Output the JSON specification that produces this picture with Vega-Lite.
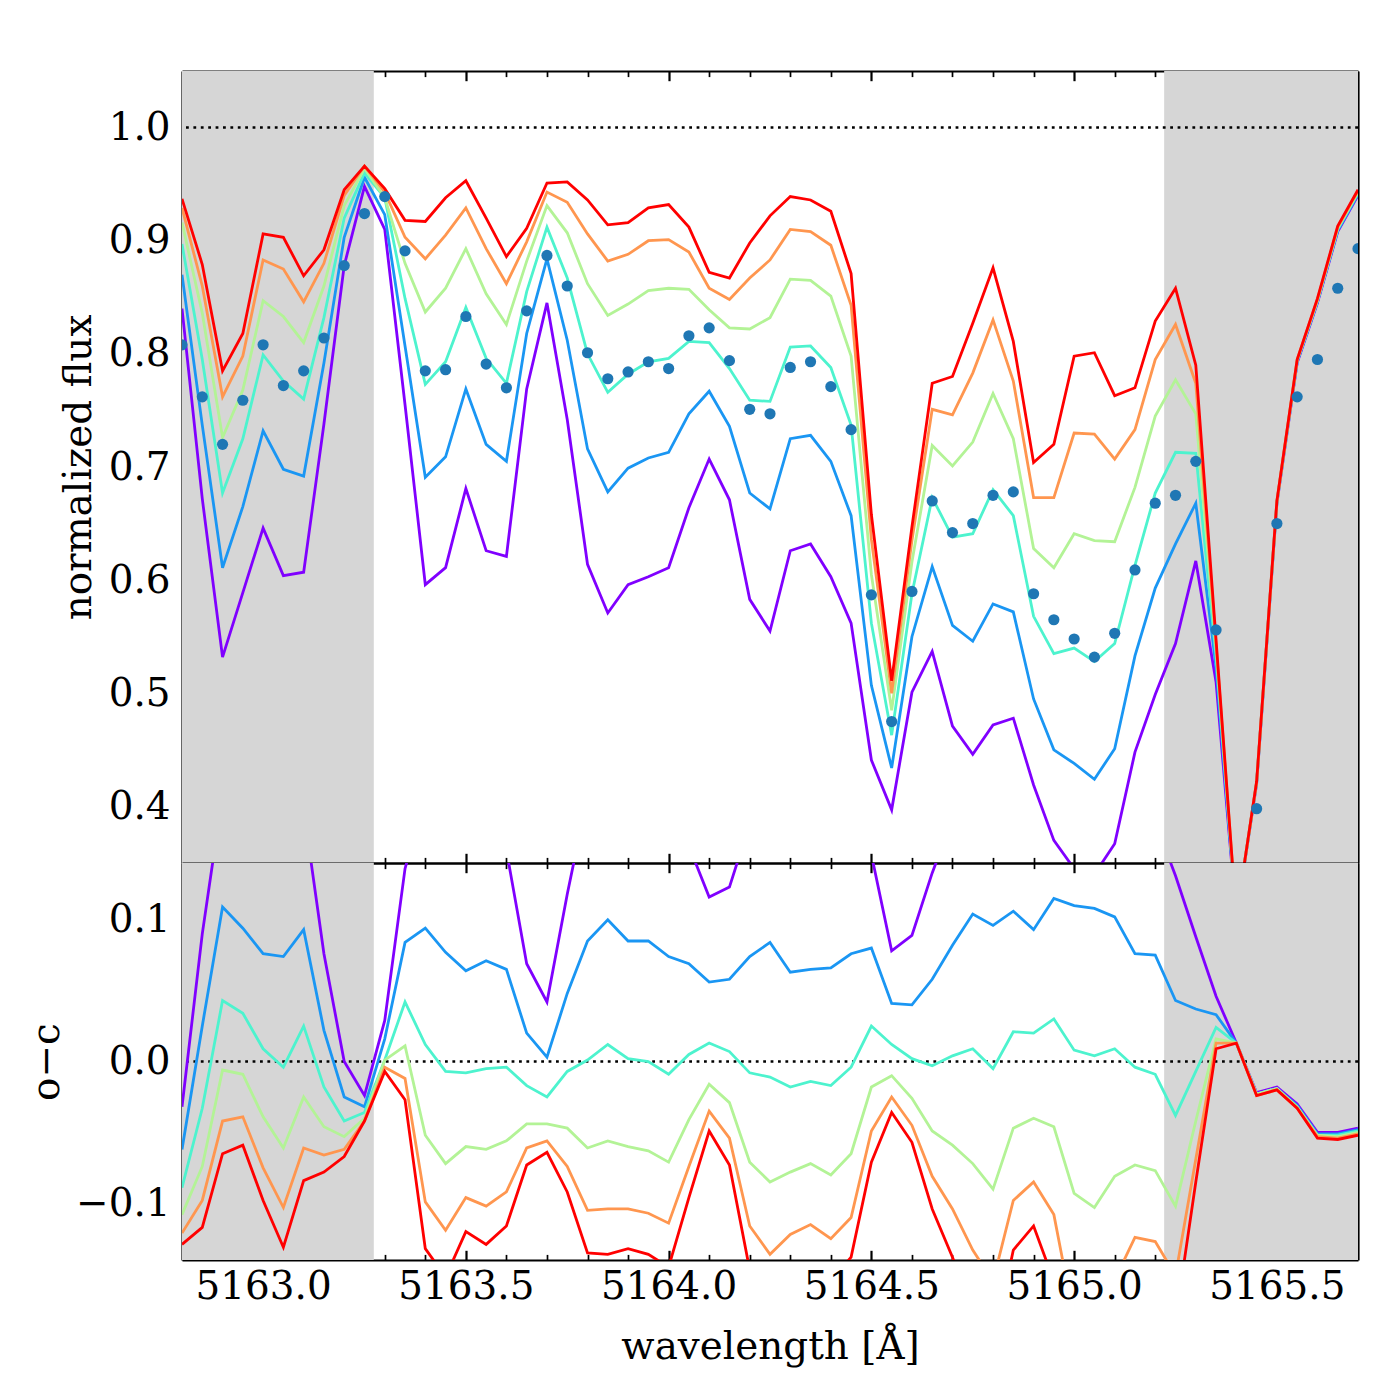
{
"$schema": "https://vega.github.io/schema/vega-lite/v6.json",
"autosize": {"type": "pad"},
"padding": {"left": 27, "top": 69, "right": 10, "bottom": 10},
"background": "white",
"spacing": 0,
"bounds": "flush",
"config": {
  "view": {"stroke": null},
  "font": "DejaVu Serif",
  "axis": {"domainColor": "black", "domainWidth": 2.2, "tickColor": "black", "labelColor": "black", "titleColor": "black", "labelFont": "DejaVu Serif", "titleFont": "DejaVu Serif", "labelFontSize": 38.9, "titleFontSize": 38.9, "titleFontWeight": "normal", "grid": false, "zindex": 1, "labelOverlap": false, "labelFlush": false, "tickCap": "butt"}
},
"datasets": {
  "shade": [{"a": 5162.8, "b": 5163.273}, {"a": 5165.222, "b": 5165.7}],
  "ref1": [{"v": 1.0}],
  "ref0": [{"v": 0.0}],
  "obs": [{"w":5162.8,"f":0.808},{"w":5162.85,"f":0.762},{"w":5162.9,"f":0.72},{"w":5162.95,"f":0.759},{"w":5163,"f":0.808},{"w":5163.05,"f":0.772},{"w":5163.1,"f":0.785},{"w":5163.15,"f":0.814},{"w":5163.2,"f":0.878},{"w":5163.25,"f":0.924},{"w":5163.3,"f":0.939},{"w":5163.35,"f":0.891},{"w":5163.4,"f":0.785},{"w":5163.45,"f":0.786},{"w":5163.5,"f":0.833},{"w":5163.55,"f":0.791},{"w":5163.6,"f":0.77},{"w":5163.65,"f":0.838},{"w":5163.7,"f":0.887},{"w":5163.75,"f":0.86},{"w":5163.8,"f":0.801},{"w":5163.85,"f":0.778},{"w":5163.9,"f":0.784},{"w":5163.95,"f":0.793},{"w":5164,"f":0.787},{"w":5164.05,"f":0.816},{"w":5164.1,"f":0.823},{"w":5164.15,"f":0.794},{"w":5164.2,"f":0.751},{"w":5164.25,"f":0.747},{"w":5164.3,"f":0.788},{"w":5164.35,"f":0.793},{"w":5164.4,"f":0.771},{"w":5164.45,"f":0.733},{"w":5164.5,"f":0.587},{"w":5164.55,"f":0.475},{"w":5164.6,"f":0.59},{"w":5164.65,"f":0.67},{"w":5164.7,"f":0.642},{"w":5164.75,"f":0.65},{"w":5164.8,"f":0.675},{"w":5164.85,"f":0.678},{"w":5164.9,"f":0.588},{"w":5164.95,"f":0.565},{"w":5165,"f":0.548},{"w":5165.05,"f":0.532},{"w":5165.1,"f":0.553},{"w":5165.15,"f":0.609},{"w":5165.2,"f":0.668},{"w":5165.25,"f":0.675},{"w":5165.3,"f":0.705},{"w":5165.35,"f":0.556},{"w":5165.4,"f":0.315},{"w":5165.45,"f":0.398},{"w":5165.5,"f":0.65},{"w":5165.55,"f":0.762},{"w":5165.6,"f":0.795},{"w":5165.65,"f":0.858},{"w":5165.7,"f":0.893}],
  "model": [
{"w":5162.8,"m":"m1","f":0.840,"d":-0.032},{"w":5162.85,"m":"m1","f":0.672,"d":0.090},{"w":5162.9,"m":"m1","f":0.532,"d":0.188},{"w":5162.95,"m":"m1","f":0.589,"d":0.170},{"w":5163,"m":"m1","f":0.646,"d":0.162},{"w":5163.05,"m":"m1","f":0.604,"d":0.168},{"w":5163.1,"m":"m1","f":0.607,"d":0.178},{"w":5163.15,"m":"m1","f":0.738,"d":0.076},{"w":5163.2,"m":"m1","f":0.878,"d":0.000},{"w":5163.25,"m":"m1","f":0.948,"d":-0.024},{"w":5163.3,"m":"m1","f":0.910,"d":0.029},{"w":5163.35,"m":"m1","f":0.755,"d":0.136},{"w":5163.4,"m":"m1","f":0.596,"d":0.189},{"w":5163.45,"m":"m1","f":0.611,"d":0.175},{"w":5163.5,"m":"m1","f":0.681,"d":0.152},{"w":5163.55,"m":"m1","f":0.626,"d":0.165},{"w":5163.6,"m":"m1","f":0.621,"d":0.149},{"w":5163.65,"m":"m1","f":0.769,"d":0.069},{"w":5163.7,"m":"m1","f":0.845,"d":0.042},{"w":5163.75,"m":"m1","f":0.742,"d":0.118},{"w":5163.8,"m":"m1","f":0.614,"d":0.187},{"w":5163.85,"m":"m1","f":0.571,"d":0.207},{"w":5163.9,"m":"m1","f":0.596,"d":0.188},{"w":5163.95,"m":"m1","f":0.603,"d":0.190},{"w":5164,"m":"m1","f":0.611,"d":0.176},{"w":5164.05,"m":"m1","f":0.664,"d":0.152},{"w":5164.1,"m":"m1","f":0.707,"d":0.116},{"w":5164.15,"m":"m1","f":0.671,"d":0.123},{"w":5164.2,"m":"m1","f":0.583,"d":0.168},{"w":5164.25,"m":"m1","f":0.555,"d":0.192},{"w":5164.3,"m":"m1","f":0.626,"d":0.162},{"w":5164.35,"m":"m1","f":0.632,"d":0.161},{"w":5164.4,"m":"m1","f":0.603,"d":0.168},{"w":5164.45,"m":"m1","f":0.562,"d":0.171},{"w":5164.5,"m":"m1","f":0.441,"d":0.146},{"w":5164.55,"m":"m1","f":0.397,"d":0.078},{"w":5164.6,"m":"m1","f":0.501,"d":0.089},{"w":5164.65,"m":"m1","f":0.537,"d":0.133},{"w":5164.7,"m":"m1","f":0.471,"d":0.171},{"w":5164.75,"m":"m1","f":0.446,"d":0.204},{"w":5164.8,"m":"m1","f":0.472,"d":0.203},{"w":5164.85,"m":"m1","f":0.478,"d":0.200},{"w":5164.9,"m":"m1","f":0.419,"d":0.169},{"w":5164.95,"m":"m1","f":0.370,"d":0.195},{"w":5165,"m":"m1","f":0.345,"d":0.203},{"w":5165.05,"m":"m1","f":0.340,"d":0.192},{"w":5165.1,"m":"m1","f":0.367,"d":0.186},{"w":5165.15,"m":"m1","f":0.448,"d":0.161},{"w":5165.2,"m":"m1","f":0.499,"d":0.169},{"w":5165.25,"m":"m1","f":0.544,"d":0.131},{"w":5165.3,"m":"m1","f":0.617,"d":0.088},{"w":5165.35,"m":"m1","f":0.510,"d":0.046},{"w":5165.4,"m":"m1","f":0.302,"d":0.013},{"w":5165.45,"m":"m1","f":0.420,"d":-0.022},{"w":5165.5,"m":"m1","f":0.668,"d":-0.018},{"w":5165.55,"m":"m1","f":0.792,"d":-0.030},{"w":5165.6,"m":"m1","f":0.845,"d":-0.050},{"w":5165.65,"m":"m1","f":0.908,"d":-0.050},{"w":5165.7,"m":"m1","f":0.940,"d":-0.047},
{"w":5162.8,"m":"m2","f":0.870,"d":-0.062},{"w":5162.85,"m":"m2","f":0.737,"d":0.025},{"w":5162.9,"m":"m2","f":0.611,"d":0.109},{"w":5162.95,"m":"m2","f":0.665,"d":0.094},{"w":5163,"m":"m2","f":0.732,"d":0.076},{"w":5163.05,"m":"m2","f":0.698,"d":0.074},{"w":5163.1,"m":"m2","f":0.692,"d":0.093},{"w":5163.15,"m":"m2","f":0.792,"d":0.022},{"w":5163.2,"m":"m2","f":0.903,"d":-0.025},{"w":5163.25,"m":"m2","f":0.956,"d":-0.032},{"w":5163.3,"m":"m2","f":0.923,"d":0.016},{"w":5163.35,"m":"m2","f":0.807,"d":0.084},{"w":5163.4,"m":"m2","f":0.691,"d":0.094},{"w":5163.45,"m":"m2","f":0.709,"d":0.077},{"w":5163.5,"m":"m2","f":0.769,"d":0.064},{"w":5163.55,"m":"m2","f":0.720,"d":0.071},{"w":5163.6,"m":"m2","f":0.705,"d":0.065},{"w":5163.65,"m":"m2","f":0.818,"d":0.020},{"w":5163.7,"m":"m2","f":0.884,"d":0.003},{"w":5163.75,"m":"m2","f":0.812,"d":0.048},{"w":5163.8,"m":"m2","f":0.716,"d":0.085},{"w":5163.85,"m":"m2","f":0.678,"d":0.100},{"w":5163.9,"m":"m2","f":0.699,"d":0.085},{"w":5163.95,"m":"m2","f":0.708,"d":0.085},{"w":5164,"m":"m2","f":0.713,"d":0.074},{"w":5164.05,"m":"m2","f":0.747,"d":0.069},{"w":5164.1,"m":"m2","f":0.767,"d":0.056},{"w":5164.15,"m":"m2","f":0.736,"d":0.058},{"w":5164.2,"m":"m2","f":0.677,"d":0.074},{"w":5164.25,"m":"m2","f":0.663,"d":0.084},{"w":5164.3,"m":"m2","f":0.725,"d":0.063},{"w":5164.35,"m":"m2","f":0.728,"d":0.065},{"w":5164.4,"m":"m2","f":0.705,"d":0.066},{"w":5164.45,"m":"m2","f":0.657,"d":0.076},{"w":5164.5,"m":"m2","f":0.507,"d":0.080},{"w":5164.55,"m":"m2","f":0.434,"d":0.041},{"w":5164.6,"m":"m2","f":0.550,"d":0.040},{"w":5164.65,"m":"m2","f":0.612,"d":0.058},{"w":5164.7,"m":"m2","f":0.560,"d":0.082},{"w":5164.75,"m":"m2","f":0.546,"d":0.104},{"w":5164.8,"m":"m2","f":0.579,"d":0.096},{"w":5164.85,"m":"m2","f":0.572,"d":0.106},{"w":5164.9,"m":"m2","f":0.495,"d":0.093},{"w":5164.95,"m":"m2","f":0.450,"d":0.115},{"w":5165,"m":"m2","f":0.438,"d":0.110},{"w":5165.05,"m":"m2","f":0.424,"d":0.108},{"w":5165.1,"m":"m2","f":0.451,"d":0.102},{"w":5165.15,"m":"m2","f":0.533,"d":0.076},{"w":5165.2,"m":"m2","f":0.593,"d":0.075},{"w":5165.25,"m":"m2","f":0.632,"d":0.043},{"w":5165.3,"m":"m2","f":0.668,"d":0.037},{"w":5165.35,"m":"m2","f":0.523,"d":0.033},{"w":5165.4,"m":"m2","f":0.302,"d":0.013},{"w":5165.45,"m":"m2","f":0.421,"d":-0.023},{"w":5165.5,"m":"m2","f":0.669,"d":-0.019},{"w":5165.55,"m":"m2","f":0.793,"d":-0.031},{"w":5165.6,"m":"m2","f":0.846,"d":-0.051},{"w":5165.65,"m":"m2","f":0.909,"d":-0.051},{"w":5165.7,"m":"m2","f":0.941,"d":-0.048},
{"w":5162.8,"m":"m3","f":0.897,"d":-0.089},{"w":5162.85,"m":"m3","f":0.795,"d":-0.033},{"w":5162.9,"m":"m3","f":0.677,"d":0.043},{"w":5162.95,"m":"m3","f":0.725,"d":0.034},{"w":5163,"m":"m3","f":0.799,"d":0.009},{"w":5163.05,"m":"m3","f":0.776,"d":-0.004},{"w":5163.1,"m":"m3","f":0.760,"d":0.025},{"w":5163.15,"m":"m3","f":0.832,"d":-0.018},{"w":5163.2,"m":"m3","f":0.920,"d":-0.042},{"w":5163.25,"m":"m3","f":0.960,"d":-0.036},{"w":5163.3,"m":"m3","f":0.938,"d":0.001},{"w":5163.35,"m":"m3","f":0.849,"d":0.042},{"w":5163.4,"m":"m3","f":0.773,"d":0.012},{"w":5163.45,"m":"m3","f":0.793,"d":-0.007},{"w":5163.5,"m":"m3","f":0.841,"d":-0.008},{"w":5163.55,"m":"m3","f":0.796,"d":-0.005},{"w":5163.6,"m":"m3","f":0.774,"d":-0.004},{"w":5163.65,"m":"m3","f":0.855,"d":-0.017},{"w":5163.7,"m":"m3","f":0.912,"d":-0.025},{"w":5163.75,"m":"m3","f":0.867,"d":-0.007},{"w":5163.8,"m":"m3","f":0.800,"d":0.001},{"w":5163.85,"m":"m3","f":0.766,"d":0.012},{"w":5163.9,"m":"m3","f":0.782,"d":0.002},{"w":5163.95,"m":"m3","f":0.793,"d":0.000},{"w":5164,"m":"m3","f":0.796,"d":-0.009},{"w":5164.05,"m":"m3","f":0.811,"d":0.005},{"w":5164.1,"m":"m3","f":0.810,"d":0.013},{"w":5164.15,"m":"m3","f":0.787,"d":0.007},{"w":5164.2,"m":"m3","f":0.759,"d":-0.008},{"w":5164.25,"m":"m3","f":0.758,"d":-0.011},{"w":5164.3,"m":"m3","f":0.806,"d":-0.018},{"w":5164.35,"m":"m3","f":0.807,"d":-0.014},{"w":5164.4,"m":"m3","f":0.788,"d":-0.017},{"w":5164.45,"m":"m3","f":0.737,"d":-0.004},{"w":5164.5,"m":"m3","f":0.562,"d":0.025},{"w":5164.55,"m":"m3","f":0.463,"d":0.012},{"w":5164.6,"m":"m3","f":0.588,"d":0.002},{"w":5164.65,"m":"m3","f":0.673,"d":-0.003},{"w":5164.7,"m":"m3","f":0.638,"d":0.004},{"w":5164.75,"m":"m3","f":0.641,"d":0.009},{"w":5164.8,"m":"m3","f":0.680,"d":-0.005},{"w":5164.85,"m":"m3","f":0.657,"d":0.021},{"w":5164.9,"m":"m3","f":0.568,"d":0.020},{"w":5164.95,"m":"m3","f":0.535,"d":0.030},{"w":5165,"m":"m3","f":0.540,"d":0.008},{"w":5165.05,"m":"m3","f":0.528,"d":0.004},{"w":5165.1,"m":"m3","f":0.544,"d":0.009},{"w":5165.15,"m":"m3","f":0.613,"d":-0.004},{"w":5165.2,"m":"m3","f":0.677,"d":-0.009},{"w":5165.25,"m":"m3","f":0.713,"d":-0.038},{"w":5165.3,"m":"m3","f":0.712,"d":-0.007},{"w":5165.35,"m":"m3","f":0.532,"d":0.024},{"w":5165.4,"m":"m3","f":0.302,"d":0.013},{"w":5165.45,"m":"m3","f":0.421,"d":-0.023},{"w":5165.5,"m":"m3","f":0.669,"d":-0.019},{"w":5165.55,"m":"m3","f":0.794,"d":-0.032},{"w":5165.6,"m":"m3","f":0.847,"d":-0.052},{"w":5165.65,"m":"m3","f":0.910,"d":-0.052},{"w":5165.7,"m":"m3","f":0.942,"d":-0.049},
{"w":5162.8,"m":"m4","f":0.916,"d":-0.108},{"w":5162.85,"m":"m4","f":0.836,"d":-0.074},{"w":5162.9,"m":"m4","f":0.726,"d":-0.006},{"w":5162.95,"m":"m4","f":0.768,"d":-0.009},{"w":5163,"m":"m4","f":0.847,"d":-0.039},{"w":5163.05,"m":"m4","f":0.833,"d":-0.061},{"w":5163.1,"m":"m4","f":0.810,"d":-0.025},{"w":5163.15,"m":"m4","f":0.860,"d":-0.046},{"w":5163.2,"m":"m4","f":0.931,"d":-0.053},{"w":5163.25,"m":"m4","f":0.964,"d":-0.040},{"w":5163.3,"m":"m4","f":0.938,"d":0.001},{"w":5163.35,"m":"m4","f":0.880,"d":0.011},{"w":5163.4,"m":"m4","f":0.837,"d":-0.052},{"w":5163.45,"m":"m4","f":0.858,"d":-0.072},{"w":5163.5,"m":"m4","f":0.893,"d":-0.060},{"w":5163.55,"m":"m4","f":0.853,"d":-0.062},{"w":5163.6,"m":"m4","f":0.826,"d":-0.056},{"w":5163.65,"m":"m4","f":0.882,"d":-0.044},{"w":5163.7,"m":"m4","f":0.931,"d":-0.044},{"w":5163.75,"m":"m4","f":0.907,"d":-0.047},{"w":5163.8,"m":"m4","f":0.862,"d":-0.061},{"w":5163.85,"m":"m4","f":0.834,"d":-0.056},{"w":5163.9,"m":"m4","f":0.844,"d":-0.060},{"w":5163.95,"m":"m4","f":0.856,"d":-0.063},{"w":5164,"m":"m4","f":0.858,"d":-0.071},{"w":5164.05,"m":"m4","f":0.857,"d":-0.041},{"w":5164.1,"m":"m4","f":0.839,"d":-0.016},{"w":5164.15,"m":"m4","f":0.823,"d":-0.029},{"w":5164.2,"m":"m4","f":0.822,"d":-0.071},{"w":5164.25,"m":"m4","f":0.832,"d":-0.085},{"w":5164.3,"m":"m4","f":0.866,"d":-0.078},{"w":5164.35,"m":"m4","f":0.865,"d":-0.072},{"w":5164.4,"m":"m4","f":0.851,"d":-0.080},{"w":5164.45,"m":"m4","f":0.798,"d":-0.065},{"w":5164.5,"m":"m4","f":0.605,"d":-0.018},{"w":5164.55,"m":"m4","f":0.485,"d":-0.010},{"w":5164.6,"m":"m4","f":0.616,"d":-0.026},{"w":5164.65,"m":"m4","f":0.719,"d":-0.049},{"w":5164.7,"m":"m4","f":0.701,"d":-0.059},{"w":5164.75,"m":"m4","f":0.722,"d":-0.072},{"w":5164.8,"m":"m4","f":0.765,"d":-0.090},{"w":5164.85,"m":"m4","f":0.725,"d":-0.047},{"w":5164.9,"m":"m4","f":0.628,"d":-0.040},{"w":5164.95,"m":"m4","f":0.611,"d":-0.046},{"w":5165,"m":"m4","f":0.641,"d":-0.093},{"w":5165.05,"m":"m4","f":0.635,"d":-0.103},{"w":5165.1,"m":"m4","f":0.634,"d":-0.081},{"w":5165.15,"m":"m4","f":0.682,"d":-0.073},{"w":5165.2,"m":"m4","f":0.745,"d":-0.077},{"w":5165.25,"m":"m4","f":0.777,"d":-0.102},{"w":5165.3,"m":"m4","f":0.747,"d":-0.042},{"w":5165.35,"m":"m4","f":0.540,"d":0.016},{"w":5165.4,"m":"m4","f":0.302,"d":0.013},{"w":5165.45,"m":"m4","f":0.421,"d":-0.023},{"w":5165.5,"m":"m4","f":0.669,"d":-0.019},{"w":5165.55,"m":"m4","f":0.794,"d":-0.032},{"w":5165.6,"m":"m4","f":0.847,"d":-0.052},{"w":5165.65,"m":"m4","f":0.911,"d":-0.053},{"w":5165.7,"m":"m4","f":0.943,"d":-0.050},
{"w":5162.8,"m":"m5","f":0.929,"d":-0.121},{"w":5162.85,"m":"m5","f":0.860,"d":-0.098},{"w":5162.9,"m":"m5","f":0.762,"d":-0.042},{"w":5162.95,"m":"m5","f":0.798,"d":-0.039},{"w":5163,"m":"m5","f":0.883,"d":-0.075},{"w":5163.05,"m":"m5","f":0.875,"d":-0.103},{"w":5163.1,"m":"m5","f":0.846,"d":-0.061},{"w":5163.15,"m":"m5","f":0.880,"d":-0.066},{"w":5163.2,"m":"m5","f":0.940,"d":-0.062},{"w":5163.25,"m":"m5","f":0.966,"d":-0.042},{"w":5163.3,"m":"m5","f":0.943,"d":-0.004},{"w":5163.35,"m":"m5","f":0.903,"d":-0.012},{"w":5163.4,"m":"m5","f":0.884,"d":-0.099},{"w":5163.45,"m":"m5","f":0.905,"d":-0.119},{"w":5163.5,"m":"m5","f":0.929,"d":-0.096},{"w":5163.55,"m":"m5","f":0.893,"d":-0.102},{"w":5163.6,"m":"m5","f":0.862,"d":-0.092},{"w":5163.65,"m":"m5","f":0.899,"d":-0.061},{"w":5163.7,"m":"m5","f":0.943,"d":-0.056},{"w":5163.75,"m":"m5","f":0.934,"d":-0.074},{"w":5163.8,"m":"m5","f":0.906,"d":-0.105},{"w":5163.85,"m":"m5","f":0.882,"d":-0.104},{"w":5163.9,"m":"m5","f":0.888,"d":-0.104},{"w":5163.95,"m":"m5","f":0.900,"d":-0.107},{"w":5164,"m":"m5","f":0.901,"d":-0.114},{"w":5164.05,"m":"m5","f":0.890,"d":-0.074},{"w":5164.1,"m":"m5","f":0.858,"d":-0.035},{"w":5164.15,"m":"m5","f":0.848,"d":-0.054},{"w":5164.2,"m":"m5","f":0.867,"d":-0.116},{"w":5164.25,"m":"m5","f":0.883,"d":-0.136},{"w":5164.3,"m":"m5","f":0.910,"d":-0.122},{"w":5164.35,"m":"m5","f":0.908,"d":-0.115},{"w":5164.4,"m":"m5","f":0.896,"d":-0.125},{"w":5164.45,"m":"m5","f":0.843,"d":-0.110},{"w":5164.5,"m":"m5","f":0.636,"d":-0.049},{"w":5164.55,"m":"m5","f":0.500,"d":-0.025},{"w":5164.6,"m":"m5","f":0.635,"d":-0.045},{"w":5164.65,"m":"m5","f":0.751,"d":-0.081},{"w":5164.7,"m":"m5","f":0.746,"d":-0.104},{"w":5164.75,"m":"m5","f":0.783,"d":-0.133},{"w":5164.8,"m":"m5","f":0.830,"d":-0.155},{"w":5164.85,"m":"m5","f":0.776,"d":-0.098},{"w":5164.9,"m":"m5","f":0.673,"d":-0.085},{"w":5164.95,"m":"m5","f":0.673,"d":-0.108},{"w":5165,"m":"m5","f":0.730,"d":-0.182},{"w":5165.05,"m":"m5","f":0.729,"d":-0.197},{"w":5165.1,"m":"m5","f":0.707,"d":-0.154},{"w":5165.15,"m":"m5","f":0.733,"d":-0.124},{"w":5165.2,"m":"m5","f":0.795,"d":-0.127},{"w":5165.25,"m":"m5","f":0.826,"d":-0.151},{"w":5165.3,"m":"m5","f":0.774,"d":-0.069},{"w":5165.35,"m":"m5","f":0.543,"d":0.013},{"w":5165.4,"m":"m5","f":0.302,"d":0.013},{"w":5165.45,"m":"m5","f":0.422,"d":-0.024},{"w":5165.5,"m":"m5","f":0.670,"d":-0.020},{"w":5165.55,"m":"m5","f":0.795,"d":-0.033},{"w":5165.6,"m":"m5","f":0.848,"d":-0.053},{"w":5165.65,"m":"m5","f":0.912,"d":-0.054},{"w":5165.7,"m":"m5","f":0.944,"d":-0.051},
{"w":5162.8,"m":"m6","f":0.937,"d":-0.129},{"w":5162.85,"m":"m6","f":0.879,"d":-0.117},{"w":5162.9,"m":"m6","f":0.785,"d":-0.065},{"w":5162.95,"m":"m6","f":0.818,"d":-0.059},{"w":5163,"m":"m6","f":0.906,"d":-0.098},{"w":5163.05,"m":"m6","f":0.903,"d":-0.131},{"w":5163.1,"m":"m6","f":0.869,"d":-0.084},{"w":5163.15,"m":"m6","f":0.892,"d":-0.078},{"w":5163.2,"m":"m6","f":0.945,"d":-0.067},{"w":5163.25,"m":"m6","f":0.966,"d":-0.042},{"w":5163.3,"m":"m6","f":0.946,"d":-0.007},{"w":5163.35,"m":"m6","f":0.918,"d":-0.027},{"w":5163.4,"m":"m6","f":0.917,"d":-0.132},{"w":5163.45,"m":"m6","f":0.938,"d":-0.152},{"w":5163.5,"m":"m6","f":0.953,"d":-0.120},{"w":5163.55,"m":"m6","f":0.920,"d":-0.129},{"w":5163.6,"m":"m6","f":0.886,"d":-0.116},{"w":5163.65,"m":"m6","f":0.911,"d":-0.073},{"w":5163.7,"m":"m6","f":0.951,"d":-0.064},{"w":5163.75,"m":"m6","f":0.952,"d":-0.092},{"w":5163.8,"m":"m6","f":0.936,"d":-0.135},{"w":5163.85,"m":"m6","f":0.914,"d":-0.136},{"w":5163.9,"m":"m6","f":0.916,"d":-0.132},{"w":5163.95,"m":"m6","f":0.929,"d":-0.136},{"w":5164,"m":"m6","f":0.932,"d":-0.145},{"w":5164.05,"m":"m6","f":0.912,"d":-0.096},{"w":5164.1,"m":"m6","f":0.872,"d":-0.049},{"w":5164.15,"m":"m6","f":0.867,"d":-0.073},{"w":5164.2,"m":"m6","f":0.898,"d":-0.147},{"w":5164.25,"m":"m6","f":0.922,"d":-0.175},{"w":5164.3,"m":"m6","f":0.939,"d":-0.151},{"w":5164.35,"m":"m6","f":0.936,"d":-0.143},{"w":5164.4,"m":"m6","f":0.926,"d":-0.155},{"w":5164.45,"m":"m6","f":0.871,"d":-0.138},{"w":5164.5,"m":"m6","f":0.658,"d":-0.071},{"w":5164.55,"m":"m6","f":0.511,"d":-0.036},{"w":5164.6,"m":"m6","f":0.647,"d":-0.057},{"w":5164.65,"m":"m6","f":0.774,"d":-0.104},{"w":5164.7,"m":"m6","f":0.780,"d":-0.138},{"w":5164.75,"m":"m6","f":0.827,"d":-0.177},{"w":5164.8,"m":"m6","f":0.876,"d":-0.201},{"w":5164.85,"m":"m6","f":0.811,"d":-0.133},{"w":5164.9,"m":"m6","f":0.704,"d":-0.116},{"w":5164.95,"m":"m6","f":0.720,"d":-0.155},{"w":5165,"m":"m6","f":0.798,"d":-0.250},{"w":5165.05,"m":"m6","f":0.801,"d":-0.269},{"w":5165.1,"m":"m6","f":0.763,"d":-0.210},{"w":5165.15,"m":"m6","f":0.770,"d":-0.161},{"w":5165.2,"m":"m6","f":0.829,"d":-0.161},{"w":5165.25,"m":"m6","f":0.858,"d":-0.183},{"w":5165.3,"m":"m6","f":0.790,"d":-0.085},{"w":5165.35,"m":"m6","f":0.547,"d":0.009},{"w":5165.4,"m":"m6","f":0.302,"d":0.013},{"w":5165.45,"m":"m6","f":0.422,"d":-0.024},{"w":5165.5,"m":"m6","f":0.670,"d":-0.020},{"w":5165.55,"m":"m6","f":0.795,"d":-0.033},{"w":5165.6,"m":"m6","f":0.849,"d":-0.054},{"w":5165.65,"m":"m6","f":0.913,"d":-0.055},{"w":5165.7,"m":"m6","f":0.945,"d":-0.052}
  ]
},
"vconcat": [
  {
    "width": 1176,
    "height": 792,
    "layer": [
      {
        "data": {"name": "shade"},
        "mark": {"type": "rect", "color": "#d6d6d6"},
        "encoding": {
          "x": {"field": "a", "type": "quantitative", "scale": {"domain": [5162.8, 5165.7], "nice": false, "zero": false}, "axis": null},
          "x2": {"field": "b"}
        }
      },
      {
        "data": {"name": "ref1"},
        "mark": {"type": "rule", "color": "black", "strokeWidth": 2.5, "strokeDash": [2.8, 4.6]},
        "encoding": {
          "y": {"field": "v", "type": "quantitative", "scale": {"domain": [0.35, 1.05], "nice": false, "zero": false}, "axis": null}
        }
      },
      {
        "data": {"name": "model"},
        "mark": {"type": "line", "clip": true, "strokeWidth": 2.8},
        "encoding": {
          "x": {"field": "w", "type": "quantitative", "scale": {"domain": [5162.8, 5165.7], "nice": false, "zero": false},
                "axis": {"orient": "bottom", "title": null, "labels": false,
                         "values": [5162.9,5163,5163.1,5163.2,5163.3,5163.4,5163.5,5163.6,5163.7,5163.8,5163.9,5164,5164.1,5164.2,5164.3,5164.4,5164.5,5164.6,5164.7,5164.8,5164.9,5165,5165.1,5165.2,5165.3,5165.4,5165.5,5165.6],
                         "tickSize": {"condition": {"test": "abs(datum.value*2-round(datum.value*2))<1e-6", "value": -9.7}, "value": -5.6},
                         "tickWidth": {"condition": {"test": "abs(datum.value*2-round(datum.value*2))<1e-6", "value": 2.2}, "value": 1.7}}},
          "y": {"field": "f", "type": "quantitative", "scale": {"domain": [0.35, 1.05], "nice": false, "zero": false},
                "axis": {"orient": "left", "title": "normalized flux", "titleAngle": 270, "titleAlign": "center", "titleBaseline": "alphabetic", "titleX": -92, "titleY": 396,
                         "values": [0.4,0.45,0.5,0.55,0.6,0.65,0.7,0.75,0.8,0.85,0.9,0.95,1.0],
                         "labelExpr": "abs(datum.value*10-round(datum.value*10))<1e-6 ? format(datum.value,'.1f') : ''",
                         "labelPadding": 21.7,
                         "tickSize": {"condition": {"test": "abs(datum.value*10-round(datum.value*10))<1e-6", "value": -9.7}, "value": -5.6},
                         "tickWidth": {"condition": {"test": "abs(datum.value*10-round(datum.value*10))<1e-6", "value": 2.2}, "value": 1.7}}},
          "color": {"field": "m", "type": "nominal", "legend": null,
                    "scale": {"domain": ["m1","m2","m3","m4","m5","m6"], "range": ["#8000ff","#1a96f3","#4df3ce","#b3f396","#ff964f","#ff0000"]}}
        }
      },
      {
        "data": {"name": "obs"},
        "mark": {"type": "circle", "clip": true, "size": 125, "color": "#1f77b4", "opacity": 1},
        "encoding": {
          "x": {"field": "w", "type": "quantitative", "scale": {"domain": [5162.8, 5165.7], "nice": false, "zero": false},
                "axis": {"orient": "top", "title": null, "labels": false,
                         "values": [5162.9,5163,5163.1,5163.2,5163.3,5163.4,5163.5,5163.6,5163.7,5163.8,5163.9,5164,5164.1,5164.2,5164.3,5164.4,5164.5,5164.6,5164.7,5164.8,5164.9,5165,5165.1,5165.2,5165.3,5165.4,5165.5,5165.6],
                         "tickSize": {"condition": {"test": "abs(datum.value*2-round(datum.value*2))<1e-6", "value": -9.7}, "value": -5.6},
                         "tickWidth": {"condition": {"test": "abs(datum.value*2-round(datum.value*2))<1e-6", "value": 2.2}, "value": 1.7}}},
          "y": {"field": "f", "type": "quantitative", "scale": {"domain": [0.35, 1.05], "nice": false, "zero": false},
                "axis": {"orient": "right", "title": null, "labels": false,
                         "values": [0.4,0.45,0.5,0.55,0.6,0.65,0.7,0.75,0.8,0.85,0.9,0.95,1.0],
                         "tickSize": {"condition": {"test": "abs(datum.value*10-round(datum.value*10))<1e-6", "value": -9.7}, "value": -5.6},
                         "tickWidth": {"condition": {"test": "abs(datum.value*10-round(datum.value*10))<1e-6", "value": 2.2}, "value": 1.7}}}
        }
      }
    ],
    "resolve": {"axis": {"x": "independent", "y": "independent"}}
  },
  {
    "width": 1176,
    "height": 397,
    "layer": [
      {
        "data": {"name": "shade"},
        "mark": {"type": "rect", "color": "#d6d6d6"},
        "encoding": {
          "x": {"field": "a", "type": "quantitative", "scale": {"domain": [5162.8, 5165.7], "nice": false, "zero": false},
                "axis": {"orient": "top", "title": null, "labels": false,
                         "values": [5162.9,5163,5163.1,5163.2,5163.3,5163.4,5163.5,5163.6,5163.7,5163.8,5163.9,5164,5164.1,5164.2,5164.3,5164.4,5164.5,5164.6,5164.7,5164.8,5164.9,5165,5165.1,5165.2,5165.3,5165.4,5165.5,5165.6],
                         "tickSize": {"condition": {"test": "abs(datum.value*2-round(datum.value*2))<1e-6", "value": -9.7}, "value": -5.6},
                         "tickWidth": {"condition": {"test": "abs(datum.value*2-round(datum.value*2))<1e-6", "value": 2.2}, "value": 1.7}}},
          "x2": {"field": "b"}
        }
      },
      {
        "data": {"name": "ref0"},
        "mark": {"type": "rule", "color": "black", "strokeWidth": 2.5, "strokeDash": [2.8, 4.6]},
        "encoding": {
          "y": {"field": "v", "type": "quantitative", "scale": {"domain": [-0.14, 0.14], "nice": false, "zero": false},
                "axis": {"orient": "right", "title": null, "labels": false,
                         "values": [-0.12,-0.1,-0.08,-0.06,-0.04,-0.02,0,0.02,0.04,0.06,0.08,0.1,0.12],
                         "tickSize": {"condition": {"test": "abs(datum.value*10-round(datum.value*10))<1e-6", "value": -9.7}, "value": -5.6},
                         "tickWidth": {"condition": {"test": "abs(datum.value*10-round(datum.value*10))<1e-6", "value": 2.2}, "value": 1.7}}}
        }
      },
      {
        "data": {"name": "model"},
        "mark": {"type": "line", "clip": true, "strokeWidth": 2.8},
        "encoding": {
          "x": {"field": "w", "type": "quantitative", "scale": {"domain": [5162.8, 5165.7], "nice": false, "zero": false},
                "axis": {"orient": "bottom", "title": "wavelength [Å]", "titleX": 588, "titleY": 98, "titleAlign": "center", "titleBaseline": "alphabetic",
                         "values": [5162.9,5163,5163.1,5163.2,5163.3,5163.4,5163.5,5163.6,5163.7,5163.8,5163.9,5164,5164.1,5164.2,5164.3,5164.4,5164.5,5164.6,5164.7,5164.8,5164.9,5165,5165.1,5165.2,5165.3,5165.4,5165.5,5165.6],
                         "labelExpr": "abs(datum.value*2-round(datum.value*2))<1e-6 ? format(datum.value,'.1f') : ''",
                         "labelPadding": 16.7,
                         "tickSize": {"condition": {"test": "abs(datum.value*2-round(datum.value*2))<1e-6", "value": -9.7}, "value": -5.6},
                         "tickWidth": {"condition": {"test": "abs(datum.value*2-round(datum.value*2))<1e-6", "value": 2.2}, "value": 1.7}}},
          "y": {"field": "d", "type": "quantitative", "scale": {"domain": [-0.14, 0.14], "nice": false, "zero": false},
                "axis": {"orient": "left", "title": "o−c", "titleAngle": 270, "titleAlign": "center", "titleBaseline": "alphabetic", "titleX": -124, "titleY": 198.5,
                         "values": [-0.12,-0.1,-0.08,-0.06,-0.04,-0.02,0,0.02,0.04,0.06,0.08,0.1,0.12],
                         "labelExpr": "abs(datum.value*10-round(datum.value*10))<1e-6 ? format(datum.value,'.1f') : ''",
                         "labelPadding": 21.7,
                         "tickSize": {"condition": {"test": "abs(datum.value*10-round(datum.value*10))<1e-6", "value": -9.7}, "value": -5.6},
                         "tickWidth": {"condition": {"test": "abs(datum.value*10-round(datum.value*10))<1e-6", "value": 2.2}, "value": 1.7}}},
          "color": {"field": "m", "type": "nominal", "legend": null,
                    "scale": {"domain": ["m1","m2","m3","m4","m5","m6"], "range": ["#8000ff","#1a96f3","#4df3ce","#b3f396","#ff964f","#ff0000"]}}
        }
      }
    ],
    "resolve": {"axis": {"x": "independent", "y": "independent"}}
  }
]
}
